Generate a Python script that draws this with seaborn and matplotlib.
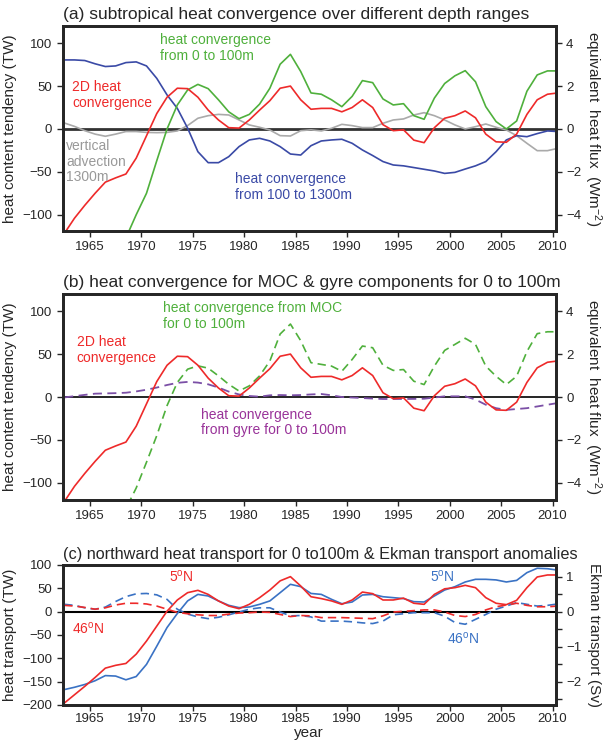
import numpy as np
import seaborn as sns
from matplotlib import pyplot as plt

years = np.arange(1962, 2011) + 0.5

# panel a / b  (TW)
conv_2d = [-122, -104, -89, -75, -62, -57, -52.5, -34, -8, 18, 37, 47.5, 47, 37, 22, 10.5, 1.5, 1, 10.5, 22,
           33, 47.5, 50, 34, 23, 24, 24, 20, 25, 34, 25, 5, -2, -1, -13, -16, 1.5, 12.5, 15.5, 21,
           13, -6, -15, -15.5, -6, 17, 34, 40.5, 42]
conv_0_100 = [-190, -185, -180, -172, -160, -145, -127, -100, -75, -37, 0, 28, 45.5, 52, 47, 34, 20, 12, 17, 29,
              47.5, 75.5, 87, 67, 42, 40.5, 34, 26, 38, 56.4, 54, 35, 28, 29.5, 15.5, 11.3, 36, 53, 62, 68,
              55, 26, 8.6, 0, 9.3, 44, 63, 67.7, 67.7]
conv_100_1300 = [80.5, 80.5, 79.8, 76, 72.8, 73.5, 77.4, 78.2, 73.5, 59, 39.7, 24, 1, -26.5, -39.3, -39.3, -32.3,
                 -20.6, -12.8, -10.9, -14, -20.6, -29.2, -30.4, -19.5, -14, -12.8, -12, -16.7, -24.5, -31, -38,
                 -42, -43, -45, -47, -49, -51.8, -50.6, -46.7, -43, -38, -26.5, -12.8, -7.8, -9, -5.4, -2.3, -3]
vert_adv = [7, 3, -2, -6, -8.5, -6, -3, -3, -4, -4.3, -4, -2.3, 4, 12.5, 15.5, 17, 16.3, 10.5, 4.7, 2,
            -1.2, -7.8, -8.2, -2, -1, -2.3, 0.8, 5.4, 3.9, 1.6, 1.6, 6.6, 10.5, 11.7, 16.3, 19, 15.5, 10.5, 4.7, 0,
            2.7, 5.8, 2, -1.2, -7.8, -16.7, -25.3, -25.3, -22.6]
conv_moc = [-200, -195, -190, -182, -170, -155, -130, -106, -76, -45, -10, 17, 32.4, 36.3, 33.6, 24.6, 14.8, 7, 13,
            24.6, 42, 73.4, 85, 65.6, 40, 38, 36, 30, 43.7, 59.4, 57.4, 37, 31, 32, 18.4, 14.5, 36, 54.3, 61.3,
            68.4, 61.3, 36, 24.2, 14.5, 24.2, 53, 73.8, 76, 76]
conv_gyre = [-0.5, 1, 2.5, 3.9, 4.2, 4.5, 5, 6.5, 8.5, 11, 14, 16.5, 17.6, 16.8, 14.8, 11, 6.3, 3, 1.2, 0.4,
             2, 2.3, 2, 2.3, 3, 3.5, 2, 0, -0.6, -1.2, -1.8, -2.3, -2.3, -2.3, -2.2, -2, -0.6, 0.8, 0.8, 0.8,
             -3, -9, -13, -15, -14, -13, -11, -9, -7]

# panel c: heat transport (TW) and Ekman transport (Sv)
ht_red = [-196, -178, -160, -141, -121, -115, -111, -91, -63, -31, 1, 25, 40.7, 45.7, 37, 23, 12, 6.4, 15.7, 30,
          46.4, 66, 75, 55, 32, 28, 23, 15.7, 25, 42, 38.6, 25, 25, 29, 18, 15.7, 37, 49, 51.4, 56.4,
          51.4, 30, 18, 15, 24.3, 51.4, 74.3, 78.6, 78.6]
ht_blue = [-167, -162, -156, -148, -137, -138, -146, -139, -113, -74, -34, -4, 23, 37, 33.6, 23, 13.6, 8.6, 10,
           15.7, 23, 40.7, 58.6, 53.6, 39, 37, 26.4, 17, 20.7, 35.7, 37, 32, 30, 28, 21.4, 20.7, 33.6, 46.4,
           53.6, 63.6, 69.3, 69.3, 68, 63.6, 67, 83.6, 93, 92, 89]
ek_red = [0.18, 0.16, 0.12, 0.07, 0.11, 0.19, 0.24, 0.24, 0.22, 0.16, 0.07, -0.02, -0.06, -0.09, -0.11, -0.11,
          -0.07, -0.04, -0.03, -0.01, -0.02, -0.08, -0.14, -0.11, -0.12, -0.17, -0.17, -0.17, -0.18, -0.19, -0.2,
          -0.12, -0.01, 0.01, 0.03, 0.05, 0.05, -0.01, -0.11, -0.14, -0.08, 0.05, 0.14, 0.19, 0.24, 0.18, 0.14,
          0.14, 0.16]
ek_blue = [0.21, 0.18, 0.11, 0.07, 0.13, 0.29, 0.43, 0.51, 0.52, 0.48, 0.35, 0.07, -0.07, -0.15, -0.2, -0.16,
           -0.09, -0.01, 0.07, 0.11, 0.11, -0.01, -0.12, -0.11, -0.15, -0.27, -0.27, -0.27, -0.29, -0.32, -0.34,
           -0.27, -0.09, -0.06, -0.03, -0.03, -0.03, -0.13, -0.31, -0.36, -0.22, -0.08, 0.07, 0.16, 0.26, 0.21,
           0.16, 0.18, 0.22]

RED = "#ee2a2a"
GREEN = "#4fb03c"
NAVY = "#3a4aa6"
GRAY = "#aaaaaa"
PURPLE = "#7b4fa6"
BLUE_C = "#3a72c4"

sns.set_style("ticks")
plt.rcParams['font.family'] = ['Liberation Sans', 'DejaVu Sans']
plt.rcParams['mathtext.default'] = 'regular'
plt.rcParams['xtick.labelsize'] = 9.5
plt.rcParams['ytick.labelsize'] = 9.5

fig = plt.figure(figsize=(6.11, 7.4), dpi=100)
L, W = 0.1026, 0.8069
ax_a = fig.add_axes([L, 0.6878, W, 0.2770])
ax_b = fig.add_axes([L, 0.3243, W, 0.2784])
ax_c = fig.add_axes([L, 0.0473, W, 0.1892])
XLIM = (1962.35, 2010.3)


def style(ax, lw=2.0):
    for s in ax.spines.values():
        s.set_linewidth(lw)
        s.set_visible(True)
    ax.tick_params(direction='out', length=4, width=1)
    ax.set_xlim(*XLIM)
    ax.set_xticks(range(1965, 2011, 5))
    ax.set_xlabel('')


def flux_axis(ax, ylim):
    ax.set_ylim(*ylim)
    ax.set_yticks([-100, -50, 0, 50, 100])
    ax.set_ylabel('heat content tendency (TW)', fontsize=11)
    r = ax.twinx()
    r.set_ylim(ylim[0] / 25, ylim[1] / 25)
    r.set_yticks([-4, -2, 0, 2, 4])
    r.tick_params(direction='out', length=4, width=1)
    for s in r.spines.values():
        s.set_linewidth(2.0)
    r.set_ylabel('equivalent  heat flux  (Wm$^{-2}$)', fontsize=11, rotation=270, labelpad=16)


# (a)
ax = ax_a
ax.axhline(0, color='#333333', lw=2, zorder=1)
sns.lineplot(x=years, y=vert_adv, ax=ax, color=GRAY, lw=1.2)
sns.lineplot(x=years, y=conv_100_1300, ax=ax, color=NAVY, lw=1.2)
sns.lineplot(x=years, y=conv_0_100, ax=ax, color=GREEN, lw=1.2)
sns.lineplot(x=years, y=conv_2d, ax=ax, color=RED, lw=1.2)
style(ax)
flux_axis(ax, (-119, 120))
ax.set_title('(a) subtropical heat convergence over different depth ranges', loc='left', fontsize=12.5, pad=5)
ax.text(1971.8, 94.6, 'heat convergence\nfrom 0 to 100m', color=GREEN, fontsize=10, va='center', linespacing=1.15)
ax.text(1963.3, 39.5, '2D heat\nconvergence', color=RED, fontsize=10, va='center', linespacing=1.15)
ax.text(1962.7, -38, 'vertical\nadvection\n1300m', color='#999999', fontsize=10, va='center', linespacing=1.15)
ax.text(1979.1, -68, 'heat convergence\nfrom 100 to 1300m', color=NAVY, fontsize=10, va='center', linespacing=1.15)

# (b)
ax = ax_b
ax.axhline(0, color='black', lw=1.2, zorder=1)
sns.lineplot(x=years, y=conv_gyre, ax=ax, color=PURPLE, lw=1.3, linestyle=(0, (5, 3)))
sns.lineplot(x=years, y=conv_moc, ax=ax, color=GREEN, lw=1.2, linestyle=(0, (5, 3)))
sns.lineplot(x=years, y=conv_2d, ax=ax, color=RED, lw=1.2)
style(ax)
flux_axis(ax, (-120, 120))
ax.set_title('(b) heat convergence for MOC & gyre components for 0 to 100m', loc='left', fontsize=12.5, pad=5)
ax.text(1972.1, 94.5, 'heat convergence from MOC\nfor 0 to 100m', color=GREEN, fontsize=10, va='center',
        linespacing=1.15)
ax.text(1963.7, 54.7, '2D heat\nconvergence', color=RED, fontsize=10, va='center', linespacing=1.15)
ax.text(1975.85, -29.6, 'heat convergence\nfrom gyre for 0 to 100m', color='#993399', fontsize=10, va='center',
        linespacing=1.15)

# (c)
ax = ax_c
ax.axhline(0, color='black', lw=1.5, zorder=1)
sns.lineplot(x=years, y=ht_blue, ax=ax, color=BLUE_C, lw=1.2)
sns.lineplot(x=years, y=ht_red, ax=ax, color=RED, lw=1.2)
style(ax)
ax.tick_params(axis='x', pad=2)
ax.set_ylim(-200, 100)
ax.set_yticks([-200, -150, -100, -50, 0, 50, 100])
ax.set_ylabel('heat transport (TW)', fontsize=11)
ax.set_title('(c) northward heat transport for 0 to100m & Ekman transport anomalies', loc='left', fontsize=11.7,
             pad=4)
fig.text(L + W / 2, 1 - 733 / 740, 'year', fontsize=11, ha='center', va='center')
r = ax.twinx()
sns.lineplot(x=years, y=ek_blue, ax=r, color=BLUE_C, lw=1.2, linestyle=(0, (5, 3)))
sns.lineplot(x=years, y=ek_red, ax=r, color=RED, lw=1.2, linestyle=(0, (5, 3)))
r.set_xlim(*XLIM)
r.set_ylim(-200 / 75, 100 / 75)
r.set_yticks([-2, -1, 0, 1])
r.set_yticks([-2.5, -1.5, -0.5, 0.5], minor=True)
r.tick_params(which='both', direction='out', length=4, width=1)
for s in r.spines.values():
    s.set_linewidth(2.0)
r.set_ylabel('Ekman transport (Sv)', fontsize=11, rotation=270, labelpad=14)
ax.text(1972.7, 75.7, '5$^o$N', color=RED, fontsize=10, va='center')
ax.text(1963.25, -36, '46$^o$N', color=RED, fontsize=10, va='center')
ax.text(1998.1, 75.7, '5$^o$N', color=BLUE_C, fontsize=10, va='center')
ax.text(1999.7, -57, '46$^o$N', color=BLUE_C, fontsize=10, va='center')

fig.savefig('out.png', dpi=100)
